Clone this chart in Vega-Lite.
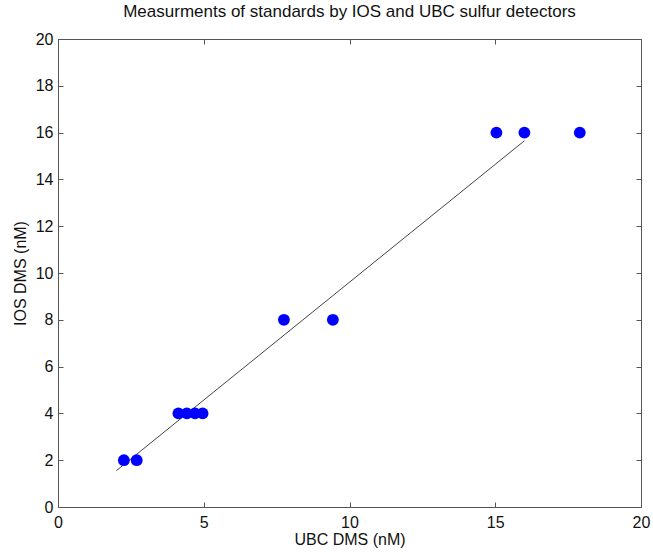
{
  "$schema": "https://vega.github.io/schema/vega-lite/v6.json",
  "width": 583,
  "height": 468,
  "autosize": "none",
  "padding": {"left": 58, "top": 39, "right": 12, "bottom": 47},
  "background": "white",
  "title": {"text": "Measurments of standards by IOS and UBC sulfur detectors", "font": "Liberation Sans", "fontSize": 17, "fontWeight": "normal", "color": "#111", "offset": 10, "anchor": "middle"},
  "config": {"view": {"stroke": null}, "axis": {"grid": false, "labelFont": "Liberation Sans", "titleFont": "Liberation Sans", "labelColor": "#111", "titleColor": "#111", "titleFontWeight": "normal", "labelFontSize": 16, "titleFontSize": 16, "domainColor": "#555", "tickColor": "#555"}},
  "datasets": {
    "pts": [
      {"ubc": 2.26, "ios": 2}, {"ubc": 2.7, "ios": 2},
      {"ubc": 4.13, "ios": 4}, {"ubc": 4.42, "ios": 4}, {"ubc": 4.7, "ios": 4}, {"ubc": 4.96, "ios": 4},
      {"ubc": 7.75, "ios": 8}, {"ubc": 9.43, "ios": 8},
      {"ubc": 15.04, "ios": 16}, {"ubc": 16.0, "ios": 16}, {"ubc": 17.9, "ios": 16}
    ],
    "fit": [{"ubc": 2.0, "ios": 1.55}, {"ubc": 16.0, "ios": 15.65}]
  },
  "layer": [
    {
      "data": {"name": "fit"},
      "mark": {"type": "line", "color": "#444", "strokeWidth": 1},
      "encoding": {
        "x": {"field": "ubc", "type": "quantitative", "scale": {"domain": [0, 20], "nice": false}, "axis": {"orient": "top", "labels": false, "title": null, "values": [0, 5, 10, 15, 20], "tickSize": -5}},
        "y": {"field": "ios", "type": "quantitative", "scale": {"domain": [0, 20], "nice": false}, "axis": {"orient": "right", "labels": false, "title": null, "values": [0, 2, 4, 6, 8, 10, 12, 14, 16, 18, 20], "tickSize": -5}}
      }
    },
    {
      "data": {"name": "pts"},
      "mark": {"type": "circle", "color": "#0000ff", "opacity": 1, "size": 140},
      "encoding": {
        "x": {"field": "ubc", "type": "quantitative", "scale": {"domain": [0, 20], "nice": false}, "axis": {"orient": "bottom", "title": "UBC DMS (nM)", "values": [0, 5, 10, 15, 20], "tickSize": -5, "labelPadding": 12, "titlePadding": 1, "labelFlush": false}},
        "y": {"field": "ios", "type": "quantitative", "scale": {"domain": [0, 20], "nice": false}, "axis": {"orient": "left", "title": "IOS DMS (nM)", "values": [0, 2, 4, 6, 8, 10, 12, 14, 16, 18, 20], "tickSize": -5, "labelPadding": 10, "titlePadding": 7, "labelFlush": false}}
      }
    }
  ],
  "resolve": {"axis": {"x": "independent", "y": "independent"}}
}
